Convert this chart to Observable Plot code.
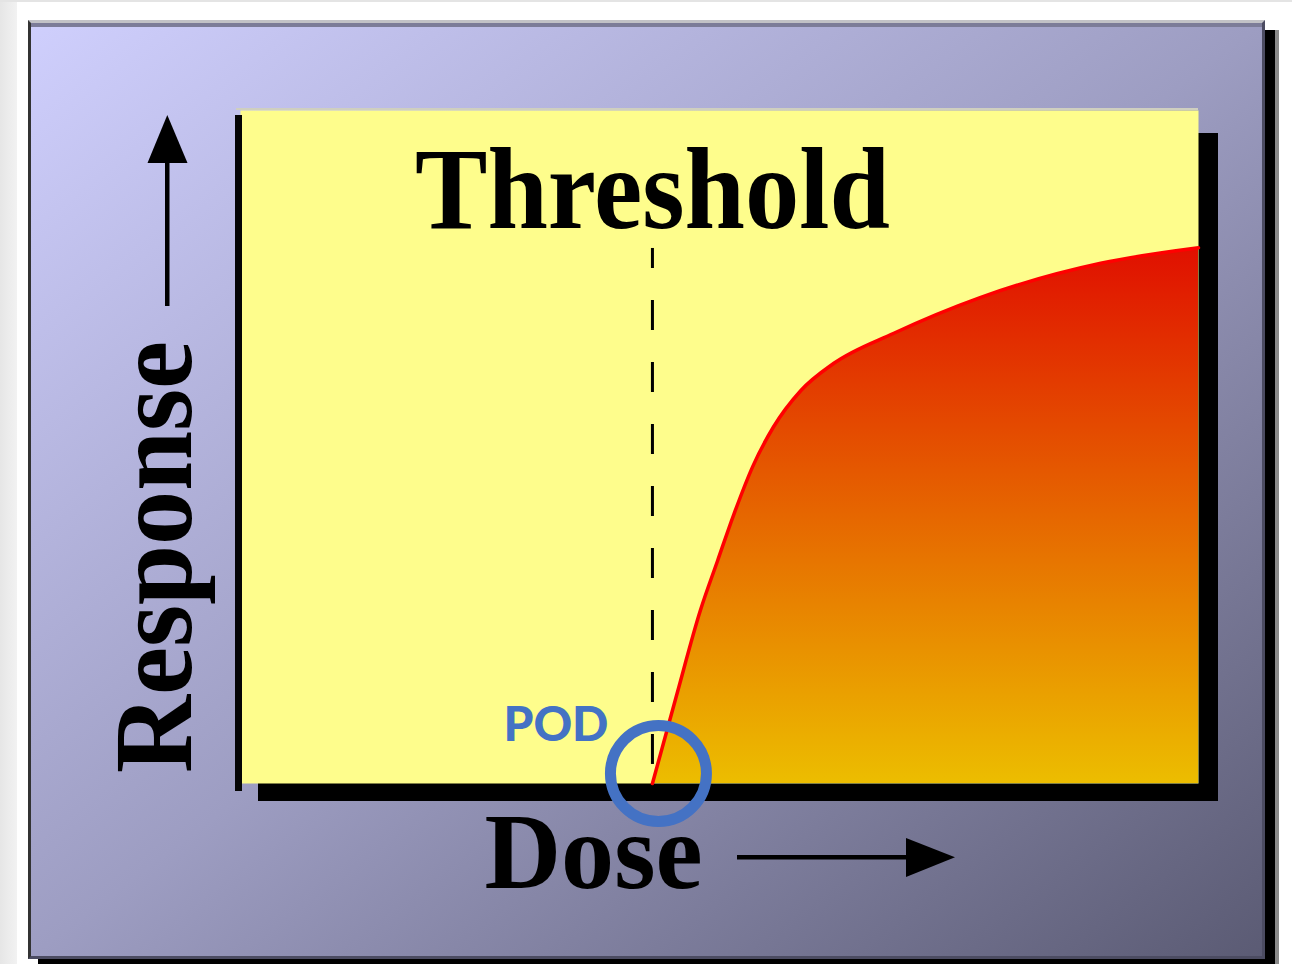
<!DOCTYPE html>
<html>
<head>
<meta charset="utf-8">
<script src="https://cdn.jsdelivr.net/npm/d3@7"></script>
<script src="https://cdn.jsdelivr.net/npm/@observablehq/plot@0.6"></script>
<style>
  html, body { margin: 0; padding: 0; background: #ffffff; }
  #wrap { position: relative; width: 1292px; height: 964px; overflow: hidden; background: #ffffff; }
  .abs { position: absolute; }
  #chart { position: absolute; left: 0; top: 0; }
</style>
</head>
<body>
<div id="wrap">
  <div class="abs" style="left:0;top:0;width:17px;height:964px;background:linear-gradient(to right,#e6e6e6,#f2f2f2);"></div>
  <div class="abs" style="left:0;top:0;width:1292px;height:2px;background:#e4e4e4;"></div>
  <div class="abs" style="left:38px;top:30px;width:1241px;height:940px;background:#8a8a8a;"></div>
  <div class="abs" style="left:38px;top:30px;width:1237px;height:940px;background:#000;"></div>
  <div class="abs" style="left:28px;top:20px;width:1237px;height:939px;box-sizing:border-box;
       background:linear-gradient(to bottom right,#cfcffd,#9d9dc2 50%,#5b5b74);
       border-top:3px solid #c2c2c6;border-left:3px solid #333;border-right:3px solid #4c4c62;border-bottom:3px solid #4c4c62;"></div>
  <div class="abs" style="left:31px;top:23px;width:1231px;height:4px;background:#7c7c98;"></div>
  <div id="chart"></div>
</div>
<script>
// ---- data ----
const doses = [4.30, 4.55, 4.80, 4.98, 5.15, 5.35, 5.56, 5.85, 6.19, 6.82, 7.72, 8.98, 10.0];
const responses = [0, 1.30, 2.57, 3.31, 4.00, 4.72, 5.29, 5.84, 6.24, 6.69, 7.22, 7.73, 7.96];
const threshold = 4.30;      // dose where response begins (POD)
const dashTop = 7.95;        // upper end of the threshold guide line
const titleText = ["Threshold"];
const xLabel = ["Dose"];
const yLabel = ["Response"];
const podLabel = [{dose: threshold, response: 0, label: "POD"}];

const curve = doses.map((d, i) => ({dose: d, response: responses[i]}));

const W = 1292, H = 964;
const mL = 240, mR = 94, mT = 110, mB = 181;

// decorations behind the plot area: shadow, gradient defs
function backdrop(index, scales, values, dims) {
  const g = d3.create("svg:g");
  const defs = g.append("defs");
  const lg = defs.append("linearGradient").attr("id", "doseGrad")
    .attr("x1", 0).attr("y1", 0).attr("x2", 0).attr("y2", 1);
  lg.append("stop").attr("offset", "0%").attr("stop-color", "#e01000");
  lg.append("stop").attr("offset", "100%").attr("stop-color", "#ecbd00");
  const left = dims.marginLeft, top = dims.marginTop;
  const right = dims.width - dims.marginRight, bottom = dims.height - dims.marginBottom;
  // drop shadow of the plot panel
  g.append("rect").attr("x", left + 18).attr("y", top + 23)
    .attr("width", right - left + 2).attr("height", bottom - top - 5).attr("fill", "#000");
  return g.node();
}

function foreground(index, scales, values, dims) {
  const g = d3.create("svg:g");
  const left = dims.marginLeft, top = dims.marginTop;
  const right = dims.width - dims.marginRight, bottom = dims.height - dims.marginBottom;
  // light line along the top and black edge at the left of the panel
  g.append("rect").attr("x", left - 4).attr("y", top - 2).attr("width", right - left + 4).attr("height", 2).attr("fill", "#cfcfc0");
  g.append("rect").attr("x", left - 5).attr("y", top + 5).attr("width", 7).attr("height", bottom - top + 3).attr("fill", "#050505");
  // vertical arrow (Response)
  g.append("rect").attr("x", 165).attr("y", 160).attr("width", 4.5).attr("height", 146).attr("fill", "#000");
  g.append("path").attr("d", "M167.3,115 L187.5,163 L147.5,163 Z").attr("fill", "#000");
  // horizontal arrow (Dose)
  g.append("rect").attr("x", 737).attr("y", 855).attr("width", 172).attr("height", 4.5).attr("fill", "#000");
  g.append("path").attr("d", "M955,857.3 L906,838 L906,877 Z").attr("fill", "#000");
  return g.node();
}

const serif = "'Liberation Serif', 'Times New Roman', serif";

const chart = Plot.plot({
  width: W,
  height: H,
  marginLeft: mL,
  marginRight: mR,
  marginTop: mT,
  marginBottom: mB,
  style: {background: "transparent", overflow: "visible"},
  x: {domain: [0, 10], axis: null},
  y: {domain: [0, 10], axis: null},
  marks: [
    backdrop,
    Plot.frame({fill: "#fefd8c", stroke: "none"}),
    Plot.areaY(curve, {x: "dose", y: "response", fill: "url(#doseGrad)", curve: "monotone-x"}),
    Plot.line(curve, {x: "dose", y: "response", stroke: "#ff0000", strokeWidth: 3.5, curve: "monotone-x"}),
    Plot.ruleX([threshold], {y1: dashTop, y2: 0, stroke: "#000", strokeWidth: 3, strokeDasharray: "30,32", strokeDashoffset: 10}),
    foreground,
    Plot.text(titleText, {x: threshold, frameAnchor: "top", lineAnchor: "bottom", dy: 117, text: d => d,
      fontFamily: serif, fontWeight: "bold", fontSize: 116, fill: "#000"}),
    Plot.text(xLabel, {frameAnchor: "bottom", lineAnchor: "bottom", dx: -126, dy: 104, text: d => d,
      fontFamily: serif, fontWeight: "bold", fontSize: 109, fill: "#000"}),
    Plot.text(yLabel, {frameAnchor: "left", textAnchor: "middle", lineAnchor: "bottom", rotate: -90, dx: -50, dy: 110, text: d => d,
      fontFamily: serif, fontWeight: "bold", fontSize: 113, fill: "#000"}),
    Plot.text(podLabel, {x: "dose", y: "response", text: "label", textAnchor: "end", lineAnchor: "bottom", dx: -44, dy: -43,
      fontFamily: "Lato, 'Open Sans', sans-serif", fontWeight: 900, fontSize: 48, fill: "#4472c4"}),
    Plot.dot(podLabel, {x: "dose", y: "response", r: 48, dx: 6, dy: -10, stroke: "#4472c4", strokeWidth: 11, fill: "none"})
  ]
});

// the source lettering is slightly condensed: fit the long labels to their measured lengths
const fitLengths = {"Threshold": 475, "Response": 432, "Dose": 218, "POD": 105};
d3.select(chart).selectAll("text").each(function() {
  const len = fitLengths[this.textContent];
  if (len) d3.select(this).attr("textLength", len).attr("lengthAdjust", "spacingAndGlyphs");
});
document.getElementById("chart").appendChild(chart);
</script>
</body>
</html>
